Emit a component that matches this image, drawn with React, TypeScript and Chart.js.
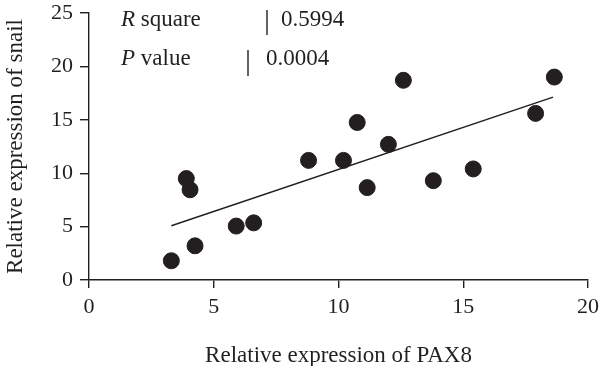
import React, { useEffect, useRef } from "react";
import { Chart, registerables } from "chart.js";

Chart.register(...registerables);

const pax8: number[] = [3.3, 3.9, 4.05, 4.25, 5.9, 6.6, 8.8, 10.2, 10.75, 11.15, 12.0, 12.6, 13.8, 15.4, 17.9, 18.65];
const snail: number[] = [1.8, 9.5, 8.45, 3.2, 5.05, 5.35, 11.2, 11.2, 14.75, 8.65, 12.7, 18.7, 9.3, 10.4, 15.6, 19.0];
const fitX: number[] = [3.3, 18.6];
const fitY: number[] = [5.08, 17.12];
const xTicks: number[] = [0, 5, 10, 15, 20];
const yTicks: number[] = [0, 5, 10, 15, 20, 25];
const statLabels: string[] = ["R", "P"];
const statNames: string[] = [" square", " value"];
const statValues: string[] = ["0.5994", "0.0004"];

const FONT = "'Liberation Serif', 'DejaVu Serif', serif";

const statsPlugin = {
  id: "stats",
  afterDraw(chart: any) {
    const ctx = chart.ctx;
    ctx.save();
    ctx.fillStyle = "#231f20";
    ctx.strokeStyle = "#231f20";
    ctx.lineWidth = 1.4;
    ctx.textBaseline = "alphabetic";
    const rows = [
      { y: 26, bar: 267, val: 281, top: 10, bottom: 35 },
      { y: 65, bar: 248, val: 266, top: 50, bottom: 76 },
    ];
    rows.forEach((r, i) => {
      let x = 121;
      ctx.font = `italic 23px ${FONT}`;
      ctx.fillText(statLabels[i], x, r.y);
      x += ctx.measureText(statLabels[i]).width;
      ctx.font = `23px ${FONT}`;
      ctx.fillText(statNames[i], x, r.y);
      ctx.beginPath();
      ctx.moveTo(r.bar, r.top);
      ctx.lineTo(r.bar, r.bottom);
      ctx.stroke();
      ctx.fillText(statValues[i], r.val, r.y);
    });
    ctx.restore();
  },
};

export default function App() {
  const ref = useRef<HTMLCanvasElement | null>(null);
  useEffect(() => {
    if (!ref.current) return;
    const black = "#231f20";
    const chart = new Chart(ref.current, {
      type: "scatter",
      data: {
        datasets: [
          {
            type: "scatter",
            data: pax8.map((x, i) => ({ x, y: snail[i] })),
            backgroundColor: black,
            borderColor: black,
            pointRadius: 8,
            pointHoverRadius: 8,
            order: 1,
          },
          {
            type: "line",
            data: fitX.map((x, i) => ({ x, y: fitY[i] })),
            borderColor: black,
            borderWidth: 1.5,
            pointRadius: 0,
            fill: false,
            order: 2,
          } as any,
        ],
      },
      options: {
        animation: false,
        responsive: false,
        layout: { padding: { left: 0, right: 12, top: 13, bottom: 0 } },
        plugins: { legend: { display: false }, tooltip: { enabled: false } },
        scales: {
          x: {
            type: "linear",
            min: 0,
            max: 20,
            afterBuildTicks: (s: any) => {
              s.ticks = xTicks.map((v) => ({ value: v }));
            },
            afterFit: (s: any) => {
              s.height = 86;
              s.paddingLeft = 0;
              s.paddingRight = 0;
            },
            ticks: { color: black, font: { family: FONT, size: 22 }, padding: 6 },
            grid: { display: true, drawOnChartArea: false, drawTicks: true, tickLength: 8, color: black, lineWidth: 1.4 },
            border: { display: true, color: black, width: 1.4 },
            title: { display: true, text: "Relative expression of PAX8", color: black, font: { family: FONT, size: 23 }, padding: { top: 0, bottom: -4 } },
          },
          y: {
            type: "linear",
            min: 0,
            max: 25,
            afterBuildTicks: (s: any) => {
              s.ticks = yTicks.map((v) => ({ value: v }));
            },
            afterFit: (s: any) => {
              s.width = 89;
              s.paddingTop = 0;
              s.paddingBottom = 0;
            },
            ticks: { color: black, font: { family: FONT, size: 22 }, padding: 7 },
            grid: { display: true, drawOnChartArea: false, drawTicks: true, tickLength: 9, color: black, lineWidth: 1.4 },
            border: { display: true, color: black, width: 1.4 },
            title: { display: true, text: "Relative expression of snail", color: black, font: { family: FONT, size: 23 }, padding: { top: 2, bottom: 0 } },
          },
        },
      },
      plugins: [statsPlugin],
    } as any);
    return () => chart.destroy();
  }, []);
  return (
    <div style={{ position: "absolute", left: 0, top: 0, width: 600, height: 366, background: "#fff" }}>
      <canvas ref={ref} width={600} height={366} style={{ display: "block" }} />
    </div>
  );
}
